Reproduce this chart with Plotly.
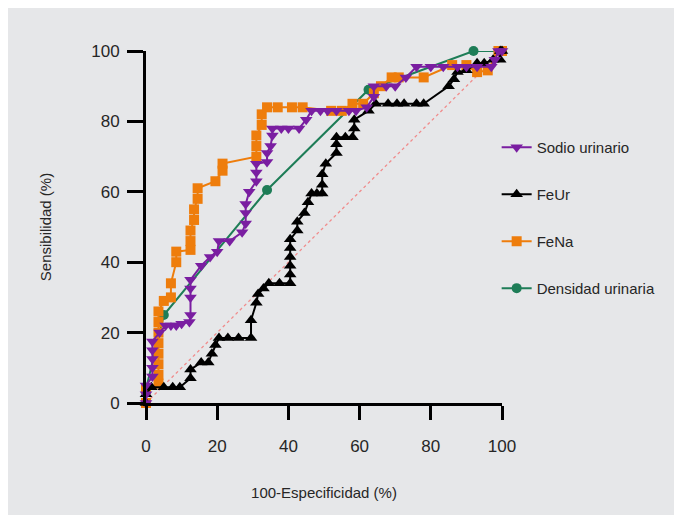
import plotly.graph_objects as go

# ---- data (100-Especificidad %, Sensibilidad %) ----
sodio_x = [0, 0, 0, 1.8, 1.8, 1.8, 1.8, 1.8, 3.8, 5.5, 7, 8.5, 10, 12.2, 12.5, 12.5, 12.5, 12.5,
           15.5, 18, 20, 20.5, 23.5, 27, 28, 28, 28, 29, 31, 31, 31, 34, 34, 35, 35.5, 35.5, 38, 40,
           43, 45, 46.5, 49, 51, 53.5, 57, 59, 62, 64, 64, 67.5, 70, 73, 76, 80, 83.5, 87.5, 90,
           93, 97, 98, 99, 100]
sodio_y = [0, 2.5, 5, 7.5, 10, 12.5, 15, 17.5, 20, 22, 22, 22, 22.5, 23, 25, 30, 32.5, 35,
           39, 41.5, 43, 46, 46, 48.5, 51, 54, 56.5, 60, 63, 65.5, 68, 68.5, 71, 73, 76, 78, 78, 78,
           78, 80.5, 83, 83, 83, 83, 83, 83, 84, 87, 90, 90, 90, 92.5, 95.5, 95.5, 95.5, 95.5, 95.5,
           95.5, 95.5, 97.5, 100, 100]

feur_x = [0, 0, 1.5, 5, 7.5, 9.5, 12.5, 12.5, 15.5, 17.5, 18.5, 19.5, 20.5, 23, 26, 29.5, 29.5,
          31, 31.5, 33, 34.5, 37.5, 40.5, 40.5, 40.5, 40.5, 40.5, 40.5, 42.5, 42.5, 44.5, 45.5,
          46.5, 48, 49.5, 49.5, 49.5, 50.5, 53.5, 53.5, 53.5, 56, 58, 58.5, 58.5, 62.5, 64.5, 68,
          70.5, 72.5, 76, 78, 85, 86.5, 87.5, 90, 93, 95, 97.5, 99.5, 99.5, 100]
feur_y = [0, 2.5, 4.5, 4.5, 4.5, 4.5, 7, 9.5, 11.5, 11.5, 14, 16.5, 18.5, 18.5, 18.5, 18.5, 23.5,
          28.5, 31, 32.5, 34, 34, 34, 36.5, 39, 41.5, 44, 46.5, 49, 51.5, 54, 57,
          59.5, 59.5, 59.5, 62, 65, 68, 71, 73.5, 75.5, 75.5, 75.5, 78, 80.5, 83, 85, 85,
          85, 85, 85, 85, 90, 92, 94, 94.5, 96.5, 96.5, 97.5, 97.5, 100, 100]

fena_x = [0, 0, 3.5, 3.5, 3.5, 3.5, 3.5, 3.5, 3.5, 3.5, 5, 7, 7, 8.5, 8.5, 12.5, 12.5, 12.5, 13.5,
          13.5, 14.5, 14.5, 19.5, 21.5, 21.5, 31, 31, 31, 32.5, 32.5, 34, 37, 41, 44, 52, 55, 58,
          61, 64, 66, 69, 71, 78, 86, 90, 93, 96, 99, 100]
fena_y = [0, 4, 5.5, 8, 11, 14, 17, 20, 23, 26, 29, 30, 34, 40, 43, 43.5, 46, 49, 52,
          55, 58, 61, 63, 66, 68, 70, 73, 76, 79, 82, 84, 84, 84, 84, 83, 83, 85,
          85, 88, 90, 92.5, 92.5, 92.5, 96, 96, 94, 94.5, 100, 100]

dens_x = [0, 0, 5, 34, 62.5, 92, 100]
dens_y = [0, 4, 25, 60.5, 89, 100, 100]

ref_x = [0, 100]
ref_y = [0, 100]

x_ticks = [0, 20, 40, 60, 80, 100]
y_ticks = [0, 20, 40, 60, 80, 100]

BG = "#E6E7E9"
FONT = "Liberation Sans, Arial, sans-serif"
TXT = "#262626"

fig = go.Figure()

fig.add_trace(go.Scatter(x=ref_x, y=ref_y, mode="lines", showlegend=False,
                         line=dict(color="#F08C8C", width=1.3, dash="dot"), hoverinfo="skip"))

fig.add_trace(go.Scatter(x=dens_x, y=dens_y, mode="lines+markers", name="Densidad urinaria",
                         legendgroup="d", legendrank=4, cliponaxis=False,
                         line=dict(color="#1E7D57", width=2),
                         marker=dict(symbol="circle", size=10, color="#1E7D57")))

fig.add_trace(go.Scatter(x=fena_x, y=fena_y, mode="lines+markers", name="FeNa",
                         legendgroup="c", legendrank=3, cliponaxis=False,
                         line=dict(color="#EE7D0C", width=2),
                         marker=dict(symbol="square", size=10, color="#EE7D0C")))

fig.add_trace(go.Scatter(x=feur_x, y=feur_y, mode="lines+markers", name="FeUr",
                         legendgroup="b", legendrank=2, cliponaxis=False,
                         line=dict(color="#000000", width=2),
                         marker=dict(symbol="triangle-up", size=11, color="#000000")))

fig.add_trace(go.Scatter(x=sodio_x, y=sodio_y, mode="lines+markers", name="Sodio urinario",
                         legendgroup="a", legendrank=1, cliponaxis=False,
                         line=dict(color="#7A1EA1", width=2),
                         marker=dict(symbol="triangle-down", size=11, color="#7A1EA1")))

axis_common = dict(
    showgrid=False, zeroline=False, showline=True, linecolor="#000000", linewidth=3,
    ticks="outside", tickcolor="#000000", tickwidth=3, automargin=False,
    tickfont=dict(family=FONT, size=17, color=TXT),
    range=[0, 100], fixedrange=True,
)

fig.update_layout(
    width=682, height=515,
    paper_bgcolor=BG, plot_bgcolor=BG,
    margin=dict(l=138, r=188, t=43, b=120, autoexpand=False),
    xaxis=dict(axis_common, tickvals=x_ticks, ticklen=14, ticklabelstandoff=12,
               title=dict(text="100-Especificidad (%)", standoff=33,
                          font=dict(family=FONT, size=15, color=TXT))),
    yaxis=dict(axis_common, tickvals=y_ticks, ticklen=16, ticklabelstandoff=4,
               title=dict(text="Sensibilidad (%)", standoff=36,
                          font=dict(family=FONT, size=15, color=TXT))),
    legend=dict(x=0.985, xanchor="left", y=0.773, yanchor="top",
                bgcolor="rgba(0,0,0,0)", tracegroupgap=24.5,
                font=dict(family=FONT, size=15, color=TXT)),
    showlegend=True,
)

fig.write_html("out.html")
